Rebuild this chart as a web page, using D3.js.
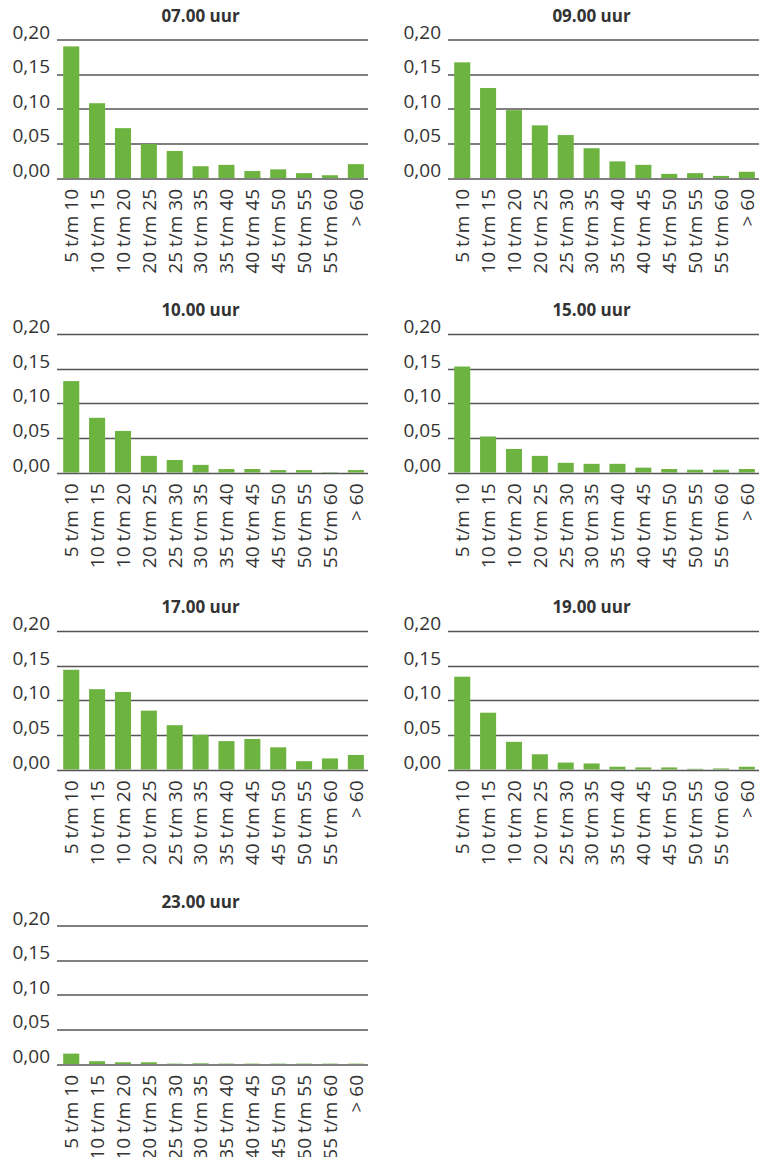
<!DOCTYPE html>
<html>
<head>
<meta charset="utf-8">
<script src="https://cdn.jsdelivr.net/npm/d3@7"></script>
<style>
  body { margin: 0; background: #fff; }
  svg text { font-family: "Open Sans", sans-serif; fill: #333; }
</style>
</head>
<body>
<svg id="chart" width="760" height="1157"></svg>
<script>
// categories (reistijd in minuten)
var categories = ["5 t/m 10", "10 t/m 15", "10 t/m 20", "20 t/m 25", "25 t/m 30", "30 t/m 35",
                  "35 t/m 40", "40 t/m 45", "45 t/m 50", "50 t/m 55", "55 t/m 60", "> 60"];
var titles = ["07.00 uur", "09.00 uur", "10.00 uur", "15.00 uur", "17.00 uur", "19.00 uur", "23.00 uur"];
var yTicks = [0, 0.05, 0.10, 0.15, 0.20];

// values
var v0700 = [0.190, 0.108, 0.072, 0.049, 0.039, 0.017, 0.019, 0.010, 0.0125, 0.007, 0.004, 0.020];
var v0900 = [0.167, 0.130, 0.098, 0.076, 0.062, 0.043, 0.024, 0.019, 0.006, 0.007, 0.003, 0.009];
var v1000 = [0.132, 0.079, 0.060, 0.024, 0.018, 0.011, 0.005, 0.005, 0.0035, 0.0035, 0.0005, 0.0035];
var v1500 = [0.153, 0.052, 0.034, 0.024, 0.014, 0.0125, 0.0125, 0.007, 0.005, 0.004, 0.004, 0.005];
var v1700 = [0.144, 0.116, 0.112, 0.085, 0.064, 0.050, 0.041, 0.044, 0.032, 0.012, 0.016, 0.021];
var v1900 = [0.134, 0.082, 0.040, 0.022, 0.010, 0.0087, 0.004, 0.003, 0.003, 0.001, 0.0015, 0.004];
var v2300 = [0.015, 0.004, 0.0025, 0.0025, 0.0005, 0.001, 0.0005, 0.0005, 0.0005, 0.0005, 0.0005, 0.0005];
var series = [v0700, v0900, v1000, v1500, v1700, v1900, v2300];

var svg = d3.select("#chart");
var plotW = 311, plotH = 138.5;
var colX = [57, 448];
var rowY = [39.5, 334, 631, 925.5];
var green = "#6db33f";

series.forEach(function (vals, i) {
    var left = colX[i % 2], top = rowY[Math.floor(i / 2)];
    var g = svg.append("g").attr("transform", "translate(" + left + "," + top + ")");

    var x = d3.scaleBand().domain(categories).range([0, plotW])
        .paddingInner(0.38).paddingOuter(0.2).align(0.6);
    var y = d3.scaleLinear().domain([0, 0.20]).range([plotH, 0]);

    // grid
    g.append("g").selectAll("line")
        .data(yTicks.filter(d => d > 0))
        .enter().append("line")
        .attr("x1", 0).attr("x2", plotW)
        .attr("y1", d => Math.round(y(d)) + 0.5).attr("y2", d => Math.round(y(d)) + 0.5)
        .attr("stroke", "#555").attr("stroke-width", 1.3);

    // y labels
    g.append("g").selectAll("text")
        .data(yTicks)
        .enter().append("text")
        .attr("x", -7).attr("y", d => y(d) - 1)
        .attr("text-anchor", "end")
        .style("font-size", "19px")
        .text(d => d3.format(".2f")(d).replace(".", ","));

    // bars
    g.append("g").selectAll("rect")
        .data(vals)
        .enter().append("rect")
        .attr("x", (d, j) => x(categories[j]))
        .attr("width", x.bandwidth())
        .attr("y", d => y(d))
        .attr("height", d => plotH - y(d))
        .attr("fill", green);

    // baseline
    g.append("line")
        .attr("x1", 0).attr("x2", plotW)
        .attr("y1", Math.round(plotH) + 0.5).attr("y2", Math.round(plotH) + 0.5)
        .attr("stroke", "#555").attr("stroke-width", 1.3);

    // x labels
    g.append("g").selectAll("text")
        .data(categories)
        .enter().append("text")
        .attr("transform", d => "translate(" + (x(d) + x.bandwidth() / 2) + "," + (plotH + 11) + ") rotate(-90)")
        .attr("dy", "0.36em")
        .attr("text-anchor", "end")
        .style("font-size", "19px")
        .text(d => d);

    // title
    g.append("text")
        .attr("x", plotW / 2 - 12).attr("y", -18)
        .attr("text-anchor", "middle")
        .style("font-size", "17px").style("font-weight", "bold")
        .text(titles[i]);
});
</script>
</body>
</html>
